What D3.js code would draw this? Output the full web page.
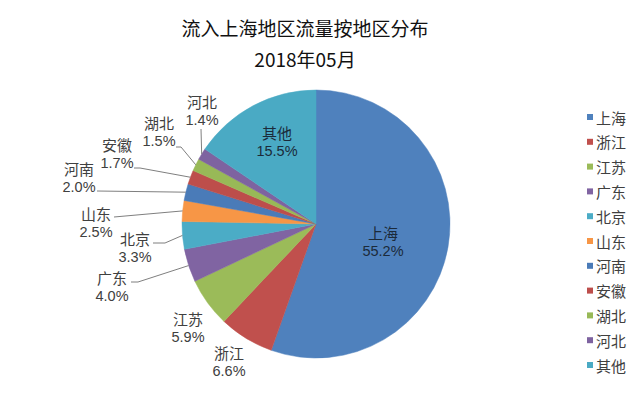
<!DOCTYPE html>
<html><head><meta charset="utf-8">
<script src="https://cdn.jsdelivr.net/npm/d3@7"></script>
<style>body{margin:0;background:#fff}svg{display:block}text{font-family:"Microsoft YaHei","Noto Sans CJK SC",sans-serif}</style>
</head><body>
<svg id="c" width="640" height="402"></svg>
<script>
const categories = ["上海","浙江","江苏","广东","北京","山东","河南","安徽","湖北","河北","其他"];
const values = [55.2, 6.6, 5.9, 4.0, 3.3, 2.5, 2.0, 1.7, 1.5, 1.4, 15.5];
const colors = ["#4F81BD","#C0504D","#9BBB59","#8064A2","#4BACC6","#F79646","#4A7BB8","#BD4E4B","#98B957","#7E63A0","#4AAAC4"];
const titleLines = ["流入上海地区流量按地区分布","2018年05月"];

// layout for labels
const labelLayout = {
  "上海": {inside:true, x:383, y:232},
  "其他": {inside:true, x:277, y:132},
  "浙江": {x:229, y:352},
  "江苏": {x:188, y:318},
  "广东": {x:112, y:277, line:[[131,282],[138,282]]},
  "北京": {x:135, y:238, line:[[153,243],[165,243]]},
  "山东": {x:96,  y:213, line:[[114,217]]},
  "河南": {x:79,  y:168, line:[[97,191]]},
  "安徽": {x:117, y:144, line:[[134,168],[140,168]]},
  "湖北": {x:159, y:122, line:[[176,147],[181,147]]},
  "河北": {x:202, y:101, line:[[201,129]]}
};

const svg = d3.select("#c");
const cx = 316, cy = 224, R = 134;

svg.selectAll("text.title").data(titleLines).join("text")
  .attr("class","title").attr("x",305).attr("y",(d,i)=>27+i*31)
  .attr("text-anchor","middle").attr("dominant-baseline","central")
  .attr("font-size",19).attr("fill","#111").text(d=>d);

const color = d3.scaleOrdinal().domain(categories).range(colors);
const pie = d3.pie().sort(null).value(d=>d.v);
const data = categories.map((c,i)=>({c, v:values[i]}));
const arcs = pie(data);
const arc = d3.arc().innerRadius(0).outerRadius(R);

const g = svg.append("g").attr("transform",`translate(${cx},${cy})`);
g.selectAll("path").data(arcs).join("path")
  .attr("d",arc).attr("fill",d=>color(d.data.c))
  .attr("stroke",d=>color(d.data.c)).attr("stroke-width",0.5);

// leader lines
const edge = d3.arc().innerRadius(R).outerRadius(R);
arcs.forEach(a=>{
  const L = labelLayout[a.data.c];
  if(!L.line) return;
  const p = edge.centroid(a);
  const pts = L.line.concat([[p[0]+cx,p[1]+cy]]);
  svg.append("path").attr("d",d3.line()(pts))
    .attr("fill","none").attr("stroke","#7f7f7f").attr("stroke-width",1);
});

// labels
arcs.forEach(a=>{
  const L = labelLayout[a.data.c];
  const t = svg.append("text").attr("text-anchor","middle")
    .attr("fill",L.inside?"#1b2a3a":"#404040");
  t.append("tspan").attr("x",L.x).attr("y",L.y).attr("dominant-baseline","central")
    .attr("font-size",15).text(a.data.c);
  t.append("tspan").attr("x",L.x).attr("y",L.y+19).attr("dominant-baseline","central")
    .attr("font-size",14.5)
    .attr("font-family","Arial, 'Liberation Sans', sans-serif").text(a.data.v.toFixed(1)+"%");
});

// legend
const leg = svg.append("g");
const ly = d3.scalePoint().domain(categories).range([117,365]);
leg.selectAll("rect").data(categories).join("rect")
  .attr("x",587).attr("y",d=>ly(d)-3).attr("width",6).attr("height",6)
  .attr("fill",d=>color(d));
leg.selectAll("text").data(categories).join("text")
  .attr("x",596).attr("y",d=>ly(d)).attr("dominant-baseline","central")
  .attr("font-size",15).attr("fill","#404040").text(d=>d);
</script>
</body></html>
